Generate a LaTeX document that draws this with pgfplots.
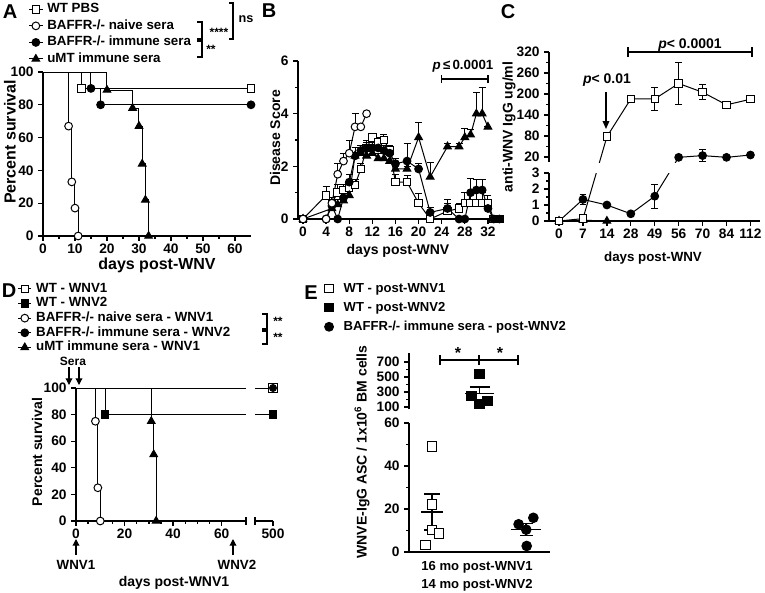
\documentclass[border=0pt]{standalone}
\usepackage{fontspec}
\setmainfont{Liberation Sans}
\usepackage{pgfplots}
\usepackage{pgfplotstable}
\pgfplotsset{compat=1.18}
\usetikzlibrary{arrows.meta}
\newcommand{\fsz}[1]{\bfseries\fontsize{#1}{#1}\selectfont}
\pgfplotsset{
  base/.style={
    scale only axis,
    axis x line*=bottom, axis y line*=left,
    axis line style={line width=1.1pt},
    tick align=outside,
    major tick length=3.5pt, minor tick length=2pt,
    tick style={line width=1pt, black},
    tick label style={font=\fsz{10.3}},
    xticklabel style={yshift=1pt},
    /pgf/number format/assume math mode=true,
    /pgf/number format/1000 sep={},
    clip marker paths=false,
  },
  lineK/.style={black, line width=0.75pt, mark=none},
  sqO/.style={black, line width=0.75pt, mark=square*, mark size=2.8pt, mark options={fill=white, solid, line width=0.75pt}},
  sqF/.style={black, line width=0.75pt, mark=square*, mark size=2.8pt, mark options={fill=black, solid}},
  cirO/.style={black, line width=0.75pt, mark=*, mark size=2.9pt, mark options={fill=white, solid, line width=0.75pt}},
  cirF/.style={black, line width=0.75pt, mark=*, mark size=2.9pt, mark options={fill=black, solid}},
  triF/.style={black, line width=0.75pt, mark=triangle*, mark size=3.3pt, mark options={fill=black, solid}},
  errP/.style={error bars/.cd, y dir=plus, y explicit, error bar style={line width=0.75pt, black}, error mark options={rotate=90, line width=0.75pt, mark size=2.6pt, black}},
  errB/.style={error bars/.cd, y dir=both, y explicit, error bar style={line width=0.75pt, black}, error mark options={rotate=90, line width=0.75pt, mark size=2.6pt, black}},
  legimg/.style={legend image code/.code={\draw[mark repeat=2,mark phase=2] plot coordinates {(0pt,0pt)(5pt,0pt)(10pt,0pt)};}},
}
% ---------- data ----------
\pgfplotstableread{
x y e
0 0 0
4 0.9 0.35
5 0.6 0
6 1.0 0.3
7 1.1 0.2
8 1.2 0.2
9 1.3 0.2
10 1.9 0.2
11 2.7 0.3
12 3.1 0.15
13 2.9 0.2
14 3.0 0.2
15 2.6 0.2
16 1.4 0.3
18 1.4 0.25
20 0.6 0.35
22 0.0 0.3
25 0.3 0.3
27 0.4 0.2
28 0.6 0.4
29 0.6 0.4
30 0.6 0.4
31 0.6 0.4
32 0.6 0.3
33 0 0
34 0 0
}\BwT
\pgfplotstableread{
x y e
0 0 0
4 0 0
5 0.6 0.2
6 1.7 0.4
7 2.2 0.3
8 2.5 0.5
9 3.5 0.5
10 3.5 0
11 4.0 0
}\Bnaive
\pgfplotstableread{
x y e
0 0 0
4 0 0
5 0.5 0.3
6 0 0
7 0.8 0.2
8 1.4 0.3
9 2.4 0.3
10 2.6 0.2
11 2.7 0.2
12 2.7 0.2
13 2.7 0.2
14 2.6 0.2
15 2.5 0.2
16 2.1 0.2
18 2.2 0.65
20 1.9 0.2
22 0.25 0.2
25 0.4 0.35
27 0 0
28 0 0
29 1.0 0.55
30 1.1 0.4
31 1.1 0.4
32 0.4 0.5
33 0 0
34 0 0
}\Bimm
\pgfplotstableread{
x y e
0 0 0
5 0.4 0.2
6 0.55 0.2
7 0.7 0.2
8 0.9 0.3
9 2.4 0.3
10 2.5 0.2
11 2.4 0.2
12 2.5 0.2
13 2.3 0.2
14 2.3 0.2
15 2.2 0.2
16 1.9 0.2
18 1.9 0.1
20 3.1 0.55
22 1.6 0.55
25 2.75 0.1
27 2.75 0.1
28 3.1 0.35
29 3.2 0.2
30 4.0 0.8
31 4.0 1.0
32 3.5 0
}\BuMT
\begin{document}
\begin{tikzpicture}[x=0.75pt,y=-0.75pt]
\useasboundingbox (0,0) rectangle (765,593);
% ================= A =================
\begin{axis}[base, at={(32.25pt,-177pt)}, anchor=south west, width=156pt, height=123pt,
  xmin=0, xmax=65, ymin=0, ymax=100, xtick={0,10,...,60}, ytick={0,20,...,100}, minor x tick num=1,
  legimg, legend cell align=left,
  legend style={at={(-0.07,1.43)}, anchor=north west, draw=none, fill=none, inner sep=0pt, row sep=1pt,
    font=\fsz{10}, nodes={inner sep=0.7pt, text height=7.6pt, text depth=2.4pt},
    /tikz/every odd column/.append style={column sep=2.5pt}}]
\addlegendimage{sqO}\addlegendentry{WT PBS}
\addlegendimage{cirO}\addlegendentry{BAFFR-/- naive sera}
\addlegendimage{cirF}\addlegendentry{BAFFR-/- immune sera}
\addlegendimage{triF}\addlegendentry{uMT immune sera}
\addplot[lineK, const plot, forget plot] coordinates {(0,100)(12,90)(65,90)};
\addplot[lineK, const plot, forget plot] coordinates {(0,100)(15,90)(18,80)(65,80)};
\addplot[lineK, const plot, forget plot] coordinates {(0,100)(20,89)(28,78)(30,67)(31,44)(32,22)(33,0)};
\addplot[lineK, const plot, forget plot] coordinates {(0,100)(8,67)(9,33)(10,17)(11,0)};
\addplot[sqO, only marks, forget plot] coordinates {(12,90)(65,90)};
\addplot[cirF, only marks, forget plot] coordinates {(15,90)(18,80)(65,80)};
\addplot[triF, only marks, forget plot] coordinates {(20,89)(28,78)(30,67)(31,44)(32,22)(33,0)};
\addplot[cirO, only marks, forget plot] coordinates {(8,67)(9,33)(10,17)(11,0)};
\end{axis}
% ================= B =================
\begin{axis}[base, at={(223.5pt,-164.25pt)}, anchor=south west, width=151.125pt, height=118.5pt,
  xmin=-0.87, xmax=34, ymin=0, ymax=6, xtick={0,4,...,32}, ytick={0,2,4,6}, minor y tick num=1]
\addplot[sqO, errP] table[x=x, y=y, y error=e] {\BwT};
\addplot[triF, errP] table[x=x, y=y, y error=e] {\BuMT};
\addplot[cirF, errP] table[x=x, y=y, y error=e] {\Bimm};
\addplot[cirO, errP] table[x=x, y=y, y error=e] {\Bnaive};
\end{axis}
% ================= C =================
\begin{axis}[base, axis x line=none, at={(411.75pt,-121.5pt)}, anchor=south west, width=158.25pt, height=82.5pt,
  xmin=-0.42, xmax=8.4, ymin=5.7, ymax=320, ytick={20,80,...,320}, minor y tick num=1]
\addplot[lineK] coordinates {(1,-158)(2,78)};
\addplot[sqO, errB] table[x=x, y=y, y error=e] {
x y e
2 78 0
3 186 10
4 186 34
5 230 60
6 205 21
7 169 9
8 185 10
};
\addplot[lineK] coordinates {(4,-92)(5,19)};
\addplot[cirF, errB] table[x=x, y=y, y error=e] {
x y e
5 19 0
6 24 17
7 19 0
8 25.7 0
};
\end{axis}
\begin{axis}[base, at={(411.75pt,-165.75pt)}, anchor=south west, width=158.25pt, height=36pt,
  xmin=-0.42, xmax=8.4, ymin=0, ymax=3, ytick={0,1,2,3}, minor y tick num=1,
  xtick={0,...,8}, xticklabels={0,7,14,28,49,56,70,84,112}]
\addplot[lineK] coordinates {(1,0.15)(2,5.27)};
\addplot[lineK] coordinates {(4,1.55)(5,3.98)};
\addplot[cirF, errB] table[x=x, y=y, y error=e] {
x y e
0 0 0
1 1.35 0.3
2 1.0 0
3 0.45 0
4 1.55 0.75
};
\addplot[triF] coordinates {(0,0)(1,0.05)(2,0)};
\addplot[sqO, errB] table[x=x, y=y, y error=e] {
x y e
0 0 0
1 0.15 0.1
};
\end{axis}
% ================= D =================
\begin{axis}[base, at={(57pt,-390.75pt)}, anchor=south west, width=127.5pt, height=99.75pt,
  xmin=0, xmax=70, ymin=0, ymax=100, xtick={0,20,40,60}, ytick={0,20,...,100}, minor x tick num=3,
  legimg, legend cell align=left,
  legend style={at={(-0.345,1.805)}, anchor=north west, draw=none, fill=none, inner sep=0pt, row sep=-0.4pt,
    font=\fsz{10}, nodes={inner sep=0.7pt, text height=7.6pt, text depth=2.4pt},
    /tikz/every odd column/.append style={column sep=2.5pt}}]
\addlegendimage{sqO}\addlegendentry{WT - WNV1}
\addlegendimage{sqF}\addlegendentry{WT - WNV2}
\addlegendimage{cirO}\addlegendentry{BAFFR-/- naive sera - WNV1}
\addlegendimage{cirF}\addlegendentry{BAFFR-/- immune sera - WNV2}
\addlegendimage{triF}\addlegendentry{uMT immune sera - WNV1}
\addplot[lineK, const plot, forget plot] coordinates {(0,100)(70,100)};
\addplot[lineK, const plot, forget plot] coordinates {(0,100)(12,80)(70,80)};
\addplot[lineK, const plot, forget plot] coordinates {(0,100)(8,75)(9,25)(10,0)};
\addplot[lineK, const plot, forget plot] coordinates {(0,100)(31,75)(32,50)(33,0)};
\addplot[sqF, only marks, forget plot] coordinates {(12,80)};
\addplot[cirO, only marks, forget plot] coordinates {(8,75)(9,25)(10,0)};
\addplot[triF, only marks, forget plot] coordinates {(31,75)(32,50)(33,0)};
\end{axis}
\begin{axis}[base, axis y line=none, at={(191.25pt,-390.75pt)}, anchor=south west, width=13.5pt, height=99.75pt,
  xmin=492.6, xmax=500, ymin=0, ymax=100, xtick={500}]
\addplot[lineK] coordinates {(492.6,100)(500,100)};
\addplot[lineK] coordinates {(492.6,80)(500,80)};
\addplot[sqO, only marks, mark size=3.3pt] coordinates {(500,100)};
\addplot[cirF, only marks, mark size=2.6pt] coordinates {(500,100)};
\addplot[sqF, only marks] coordinates {(500,80)};
\end{axis}
% ================= E =================
\begin{axis}[base, axis x line=none, at={(306.75pt,-306.75pt)}, anchor=south west, width=105.75pt, height=42pt,
  xmin=0.516, xmax=3.48, ymin=75, ymax=820, ytick={100,300,500,700}, minor y tick num=1,
  legend cell align=left,
  legend style={at={(-0.60,2.286)}, anchor=north west, draw=none, fill=none, inner sep=0pt, row sep=3.2pt,
    font=\fsz{9.8}, nodes={inner sep=0.7pt, text height=7.4pt, text depth=2.3pt},
    /tikz/every odd column/.append style={column sep=7pt}}]
\addlegendimage{sqO, only marks, mark size=3.2pt}\addlegendentry{WT - post-WNV1}
\addlegendimage{sqF, only marks, mark size=3.2pt}\addlegendentry{WT - post-WNV2}
\addlegendimage{cirF, only marks, mark size=3.3pt}\addlegendentry{BAFFR-/- immune sera - post-WNV2}
\addplot[only marks, mark=-, mark size=10.9pt, mark options={line width=1.1pt}, forget plot,
  error bars/.cd, y dir=plus, y explicit, error bar style={line width=1.1pt}, error mark options={rotate=90, line width=1.1pt, mark size=7.5pt}]
  coordinates {(2,280) +- (0,87)};
\addplot[sqF, only marks, mark size=3.6pt, forget plot] coordinates {(2,540)(1.83,250)(2,139)(2.16,183)};
\end{axis}
\begin{axis}[base, at={(306.75pt,-414pt)}, anchor=south west, width=105.75pt, height=96.75pt,
  xmin=0.516, xmax=3.48, ymin=0, ymax=60, ytick={0,20,40,60}, minor y tick num=1, xtick=\empty]
\addplot[sqO, only marks, mark size=3.6pt] coordinates {(1,49)(1,22)(1,10.2)(1.15,8.5)(0.86,3.3)};
\addplot[cirF, only marks, mark size=3.6pt] coordinates {(2.82,12.9)(3.13,15.9)(2.98,10.4)(2.99,2.8)};
\addplot[only marks, mark=-, mark size=8.3pt, mark options={line width=1.1pt},
  error bars/.cd, y dir=both, y explicit, error bar style={line width=1.1pt}, error mark options={rotate=90, line width=1.1pt, mark size=5.9pt}]
  coordinates {(1,18.6) +- (0,8.3)};
\addplot[only marks, mark=-, mark size=11.2pt, mark options={line width=1.1pt},
  error bars/.cd, y dir=both, y explicit, error bar style={line width=1.1pt}, error mark options={rotate=90, line width=1.1pt, mark size=5pt}]
  coordinates {(2.98,10.5) +- (0,2.7)};
\end{axis}
% ================= annotations =================
\tikzset{every node/.append style={inner sep=0pt}}
\node[font=\fsz{15}] at (10,12) {A};
\node[font=\fsz{15}] at (269,11) {B};
\node[font=\fsz{15}] at (508,12) {C};
\node[font=\fsz{15}] at (9,291) {D};
\node[font=\fsz{15}] at (311,293) {E};
\node[rotate=90, font=\fsz{12}] at (10,142) {Percent survival};
\node[font=\fsz{12}] at (157,265) {days post-WNV};
\node[rotate=90, font=\fsz{10.5}] at (275,138) {Disease Score};
\node[font=\fsz{10.5}] at (398,251) {days post-WNV};
\node[rotate=90, font=\fsz{10.5}] at (509,127) {anti-WNV IgG ug/ml};
\node[font=\fsz{10}] at (653,258) {days post-WNV};
\node[rotate=90, font=\fsz{10.5}] at (37,452) {Percent survival};
\node[font=\fsz{10.5}] at (174,583) {days post-WNV1};
\node[rotate=90, font=\fsz{10.5}] at (362,452) {WNVE-IgG ASC / 1x10\textsuperscript{6} BM cells};
\node[font=\fsz{9.8}] at (477,567) {16 mo post-WNV1};
\node[font=\fsz{9.8}] at (477,585) {14 mo post-WNV2};
% A brackets
\draw[line width=0.8pt] (197,22) -- (202,22) -- (202,39) -- (197,39);
\draw[line width=0.8pt] (197,41) -- (202,41) -- (202,57) -- (197,57);
\draw[line width=0.8pt] (229,3) -- (233,3) -- (233,39) -- (229,39);
\node[font=\fsz{9}] at (219,32) {****};
\node[font=\fsz{9}] at (211,49) {**};
\node[font=\fsz{9.5}] at (246,19) {ns};
% B bracket
\draw[line width=0.9pt] (441.7,75) -- (441.7,83) (441.7,79) -- (488,79) (488,75) -- (488,83);
\node[font=\fsz{10}] at (463,66) {\textit{p}\,≤\,0.0001};
% C annotations
\draw[line width=0.9pt] (628,47) -- (628,57) (628,52) -- (752,52) (752,47) -- (752,57);
\node[font=\fsz{10.5}] at (690,45) {\textit{p}< 0.0001};
\node[font=\fsz{10.5}] at (607,80) {\textit{p}< 0.01};
\draw[line width=0.9pt, -{Triangle[length=6pt,width=5pt]}] (606,92) -- (606,129);
% D annotations
\draw[line width=0.8pt] (262,314) -- (267,314) -- (267,329) -- (262,329);
\draw[line width=0.8pt] (262,331) -- (267,331) -- (267,344) -- (262,344);
\node[font=\fsz{9}] at (278,321) {**};
\node[font=\fsz{9}] at (278,337) {**};
\node[font=\fsz{9}] at (73,361) {Sera};
\draw[line width=0.9pt, -{Triangle[length=5pt,width=5pt]}] (69,367) -- (69,385);
\draw[line width=0.9pt, -{Triangle[length=5pt,width=5pt]}] (79,367) -- (79,385);
\draw[line width=0.9pt, -{Triangle[length=5pt,width=5pt]}] (76,555) -- (76,539);
\draw[line width=0.9pt, -{Triangle[length=5pt,width=5pt]}] (233,555) -- (233,539);
\node[font=\fsz{10}] at (76,565) {WNV1};
\node[font=\fsz{10}] at (237,565) {WNV2};
\draw[line width=1pt] (246,517) -- (246,525) (255,517) -- (255,525);
% E bracket
\draw[line width=1pt] (440,355) -- (440,365) (440,360) -- (518,360) (479,355) -- (479,365) (518,355) -- (518,365);
\node[font=\fsz{12}] at (458,353) {*};
\node[font=\fsz{12}] at (500,353) {*};
\end{tikzpicture}
\end{document}
